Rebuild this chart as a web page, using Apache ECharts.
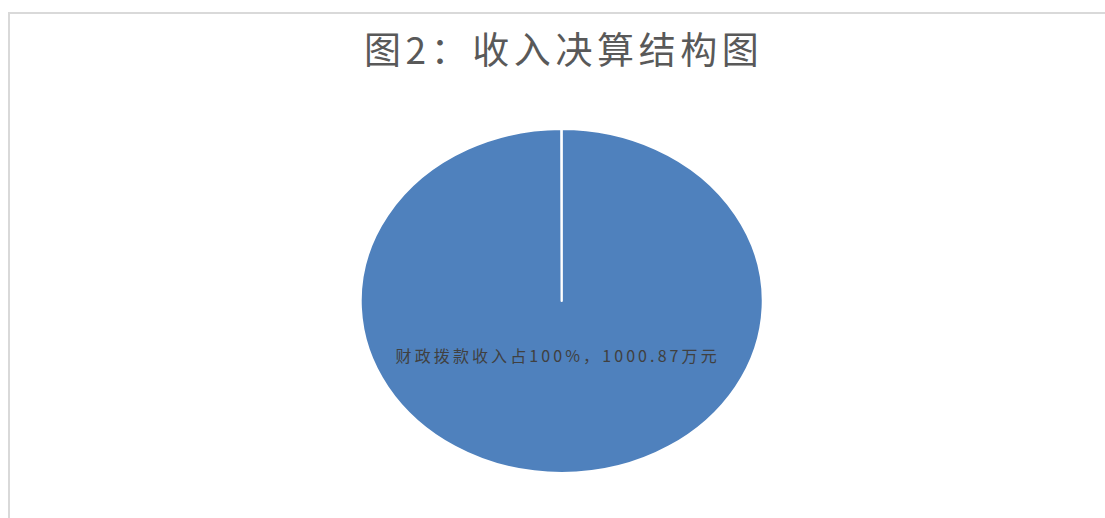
<!DOCTYPE html>
<html>
<head>
<meta charset="utf-8">
<script src="https://cdn.jsdelivr.net/npm/echarts@6/dist/echarts.min.js"></script>
<style>
  html, body { margin: 0; padding: 0; background: #ffffff; }
  #stage { position: relative; width: 1105px; height: 518px; overflow: hidden; background: #fff; }
  #frame { position: absolute; left: 8px; top: 12px; right: -4px; bottom: -4px;
           border-top: 2px solid #d9d9d9; border-left: 2px solid #d9d9d9; }
  .layer { position: absolute; left: 0; top: 0; width: 1105px; height: 518px; }
  #pieBox { transform-origin: 561.7px 301px; transform: scaleX(1.1696); }
  #titleBox text { letter-spacing: 4.6px; }
  #labelBox text { letter-spacing: 3.1px; }
  #labelBox, #titleBox { pointer-events: none; }
</style>
</head>
<body>
<div id="stage">
  <div id="frame"></div>
  <div id="pieBox" class="layer"></div>
  <div id="labelBox" class="layer"></div>
  <div id="titleBox" class="layer"></div>
</div>
<script>
// ---- data ----
const chartTitle = '图2：收入决算结构图';
const categories = ['财政拨款收入'];
const values = [1000.87];
const unit = '万元';

const pieData = categories.map((c, i) => ({ name: c, value: values[i] }));
const FONT = '"Noto Sans CJK SC", "Noto Sans", sans-serif';
const CX = 561.7, CY = 301, R = 172;

// Pie (stretched horizontally to the ellipse of the reference)
const pie = echarts.init(document.getElementById('pieBox'), null, { renderer: 'svg' });
pie.setOption({
  animation: false,
  color: ['#4f81bd'],
  series: [{
    type: 'pie',
    center: [CX, CY],
    radius: [0, R],
    startAngle: 90,
    endAngle: 90 - 359.9,
    clockwise: true,
    silent: true,
    label: { show: false },
    labelLine: { show: false },
    itemStyle: { borderColor: '#ffffff', borderWidth: 2 },
    data: pieData
  }]
});

// Label layer (unstretched text)
const lab = echarts.init(document.getElementById('labelBox'), null, { renderer: 'svg' });
lab.setOption({
  animation: false,
  series: [{
    type: 'pie',
    center: [CX, CY],
    radius: [0, R],
    startAngle: 90,
    silent: true,
    itemStyle: { color: 'rgba(0,0,0,0)' },
    labelLine: { show: false },
    label: {
      show: true,
      position: 'center',
      offset: [-4, 54],
      fontFamily: FONT,
      fontSize: 16,
      color: '#404040',
      formatter: p => p.name + '占' + Math.round(p.percent) + '%，' + p.value + unit
    },
    emphasis: { disabled: true },
    data: pieData
  }]
});

// Title layer
const tt = echarts.init(document.getElementById('titleBox'), null, { renderer: 'svg' });
tt.setOption({
  animation: false,
  title: {
    text: chartTitle,
    left: CX + 2,
    top: 29,
    padding: 0,
    textAlign: 'center',
    textStyle: { fontFamily: FONT, fontSize: 37, fontWeight: 'normal', color: '#595959' }
  }
});
</script>
</body>
</html>
